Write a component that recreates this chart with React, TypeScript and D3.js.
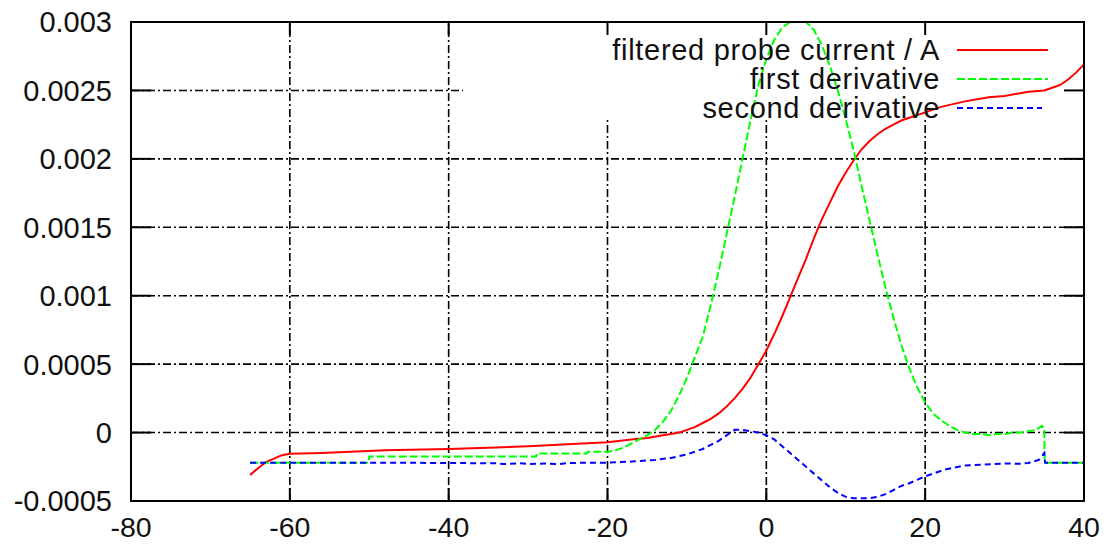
import React from "react";
import * as d3 from "d3";

const WIDTH = 1110;
const HEIGHT = 544;

const xTicks = [-80, -60, -40, -20, 0, 20, 40];
const yTicks = [-0.0005, 0, 0.0005, 0.001, 0.0015, 0.002, 0.0025, 0.003];
const yTickLabels = ["-0.0005", "0", "0.0005", "0.001", "0.0015", "0.002", "0.0025", "0.003"];

const seriesNames = ["filtered probe current / A", "first derivative", "second derivative"];
const seriesColors = ["#ff0000", "#00ff00", "#0000ff"];
const seriesDash = ["none", "8,3", "6,4"];

// filtered probe current
const currentData: [number, number][] = [
  [-65, -0.00031], [-64, -0.00026], [-63, -0.000215], [-62, -0.00019], [-61, -0.000165],
  [-60, -0.000155], [-56, -0.00015], [-48, -0.00013], [-40, -0.00012], [-35, -0.00011],
  [-30, -0.0001], [-25, -0.000085], [-20, -0.00007], [-17, -0.00005], [-15, -0.00004],
  [-13, -0.00002], [-12, -0.00001], [-11, 0], [-10, 0.00002], [-9, 0.00004], [-8, 0.00007],
  [-7, 0.0001], [-6, 0.00014], [-5, 0.00019], [-4, 0.00025], [-3, 0.00032], [-2, 0.0004],
  [-1, 0.0005], [0, 0.0006], [1, 0.00072], [2, 0.00085], [3, 0.00099], [4, 0.00113],
  [5, 0.00127], [6, 0.00142], [7, 0.00156], [8, 0.00168], [9, 0.0018], [10, 0.0019],
  [11, 0.00199], [12, 0.00207], [13, 0.00213], [14, 0.00218], [15, 0.00222], [16, 0.00225],
  [17, 0.00228], [18, 0.0023], [20, 0.00234], [22, 0.00238], [25, 0.00242], [28, 0.00245],
  [30, 0.00246], [33, 0.00249], [35, 0.0025], [36, 0.00252], [37, 0.00254], [38, 0.00258],
  [39, 0.00263], [40, 0.00269],
];

// first derivative
const firstDerivData: [number, number][] = [
  [-65, -0.00022], [-50.1, -0.00022], [-50, -0.000175], [-29, -0.000175], [-28.9, -0.000153],
  [-22.6, -0.000153], [-22.5, -0.00014], [-20, -0.00014], [-19, -0.00013], [-18, -0.00011],
  [-17, -0.00008], [-16, -0.00005], [-15, -0.00002], [-14, 0.00002], [-13, 0.00008],
  [-12, 0.00016], [-11, 0.00027], [-10, 0.0004], [-9, 0.00055], [-8, 0.0007], [-7, 0.00093],
  [-6, 0.00118], [-5, 0.00145], [-4, 0.00172], [-3, 0.002], [-2, 0.00228], [-1, 0.00254],
  [0, 0.00273], [1, 0.00287], [2, 0.00296], [3, 0.003], [4, 0.00302], [5, 0.003],
  [6, 0.00294], [7, 0.00283], [8, 0.00268], [9, 0.0025], [10, 0.00229], [11, 0.00206],
  [12, 0.0018], [13, 0.00155], [14, 0.0013], [15, 0.00106], [16, 0.00084], [17, 0.00064],
  [18, 0.00047], [19, 0.00033], [20, 0.00022], [21, 0.00014], [22, 0.00009], [23, 0.00005],
  [24, 0.00002], [25, 0], [26, -0.00001], [27, -0.00001], [28, -0.00002], [29, -0.00001],
  [30, -0.00001], [31, 0], [32, 0], [33, 0.00001], [34, 0.00002], [34.7, 0.00005],
  [35, 0.00003], [35.05, -0.00022], [40, -0.00022],
];

// second derivative
const secondDerivData: [number, number][] = [
  [-65, -0.00022], [-50, -0.00022], [-40, -0.000222], [-34, -0.000225], [-33, -0.00023],
  [-31, -0.000224], [-30, -0.00023], [-28, -0.000226], [-26, -0.00023], [-25, -0.000222],
  [-20, -0.00022], [-17, -0.000212], [-14, -0.0002], [-12, -0.000185], [-10, -0.00016],
  [-8, -0.00012], [-6, -0.00006], [-5, -0.00002], [-4, 0.00002], [-3, 0.00002], [-2, 0.00001],
  [-1, 0], [0, -0.00002], [1, -0.00005], [2, -0.0001], [3, -0.00015], [4, -0.0002],
  [5, -0.00025], [6, -0.0003], [7, -0.00035], [8, -0.0004], [9, -0.00044], [10, -0.00047],
  [11, -0.00048], [12, -0.00048], [13, -0.00048], [14, -0.00047], [15, -0.00045],
  [16, -0.00042], [17, -0.00039], [18, -0.00037], [20, -0.00032], [22.5, -0.00027],
  [25, -0.00024], [27, -0.000235], [30, -0.000226], [32, -0.000228], [33, -0.000222],
  [34.3, -0.0002], [35, -0.00015], [35.1, -0.00022], [40, -0.00022],
];

const allSeries = [currentData, firstDerivData, secondDerivData];

const PLOT = { left: 131, right: 1084, top: 22, bottom: 501 };
const FONT = "'Liberation Sans', Arial, sans-serif";
const GRID_DASH = "8,3,2,3";

export default function App() {
  const x = d3.scaleLinear().domain([-80, 40]).range([PLOT.left, PLOT.right]);
  const y = d3.scaleLinear().domain([-0.0005, 0.003]).range([PLOT.bottom, PLOT.top]);

  const line = d3
    .line<[number, number]>()
    .x((d) => x(d[0]))
    .y((d) => y(d[1]));

  // gnuplot leaves the key area free of grid lines
  const keyBox = { x0: 463, y0: PLOT.top, x1: PLOT.right, y1: 118 };

  return (
    <svg
      width={WIDTH}
      height={HEIGHT}
      style={{ position: "absolute", left: 0, top: 0, background: "#fff" }}
    >
      <defs>
        <clipPath id="plot-clip">
          <rect
            x={PLOT.left}
            y={PLOT.top}
            width={PLOT.right - PLOT.left}
            height={PLOT.bottom - PLOT.top}
          />
        </clipPath>
      </defs>

      {/* grid */}
      <g stroke="#000" strokeWidth={1.6} strokeDasharray={GRID_DASH}>
        {xTicks.slice(1, -1).map((t) => (
          <line key={"gx" + t} x1={x(t)} x2={x(t)} y1={PLOT.bottom} y2={PLOT.top} />
        ))}
        {yTicks.slice(1, -1).map((t) => (
          <line key={"gy" + t} x1={PLOT.left} x2={PLOT.right} y1={y(t)} y2={y(t)} />
        ))}
      </g>
      <rect
        x={keyBox.x0}
        y={keyBox.y0}
        width={keyBox.x1 - keyBox.x0}
        height={keyBox.y1 - keyBox.y0}
        fill="#fff"
      />

      {/* ticks */}
      <g stroke="#000" strokeWidth={2}>
        {xTicks.map((t) => (
          <g key={"tx" + t}>
            <line x1={x(t)} x2={x(t)} y1={PLOT.bottom} y2={PLOT.bottom - 13} />
            <line x1={x(t)} x2={x(t)} y1={PLOT.top} y2={PLOT.top + 13} />
          </g>
        ))}
        {yTicks.map((t) => (
          <g key={"ty" + t}>
            <line x1={PLOT.left} x2={PLOT.left + 20} y1={y(t)} y2={y(t)} />
            <line x1={PLOT.right} x2={PLOT.right - 20} y1={y(t)} y2={y(t)} />
          </g>
        ))}
      </g>

      {/* curves */}
      <g clipPath="url(#plot-clip)" fill="none">
        {allSeries.map((data, i) => (
          <path
            key={seriesNames[i]}
            d={line(data) || ""}
            stroke={seriesColors[i]}
            strokeWidth={2}
            strokeDasharray={seriesDash[i]}
          />
        ))}
      </g>

      {/* border */}
      <rect
        x={PLOT.left}
        y={PLOT.top}
        width={PLOT.right - PLOT.left}
        height={PLOT.bottom - PLOT.top}
        fill="none"
        stroke="#000"
        strokeWidth={2}
      />

      {/* tick labels */}
      <g fontFamily={FONT} fontSize={29} fill="#111">
        {yTicks.map((t, i) => (
          <text key={"ly" + t} x={112} y={y(t)} dy="0.36em" textAnchor="end">
            {yTickLabels[i]}
          </text>
        ))}
        {xTicks.map((t) => (
          <text key={"lx" + t} x={x(t)} y={537} fontSize={28.5} textAnchor="middle">
            {t}
          </text>
        ))}
      </g>

      {/* key */}
      <g fontFamily={FONT} fontSize={29} fill="#111" letterSpacing={0.7}>
        {seriesNames.map((name, i) => {
          const rowY = 50 + i * 29;
          return (
            <g key={"key" + name}>
              <text x={940} y={rowY} dy="0.36em" textAnchor="end">
                {name}
              </text>
              <line
                x1={957}
                x2={i === 2 ? 1042 : 1048}
                y1={rowY}
                y2={rowY}
                stroke={seriesColors[i]}
                strokeWidth={2}
                strokeDasharray={seriesDash[i]}
              />
            </g>
          );
        })}
      </g>
    </svg>
  );
}
